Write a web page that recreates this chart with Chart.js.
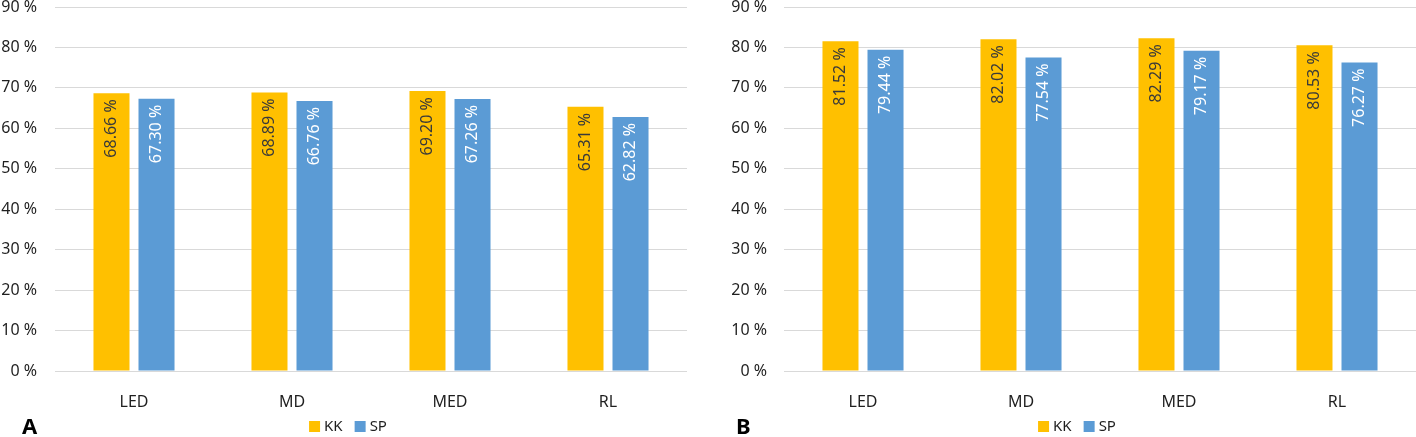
<!DOCTYPE html>
<html>
<head>
<meta charset="utf-8">
<script src="https://cdn.jsdelivr.net/npm/chart.js@4.4.1/dist/chart.umd.min.js"></script>
<style>
  html, body { margin: 0; padding: 0; background: #fff; }
  .wrap { display: flex; width: 1416px; height: 437px; }
  canvas { display: block; }
</style>
</head>
<body>
<div class="wrap">
  <canvas id="chartA" width="708" height="437"></canvas>
  <canvas id="chartB" width="708" height="437"></canvas>
</div>
<script>
// ── data ────────────────────────────────────────────────────────────────────
const categories = ["LED", "MD", "MED", "RL"];
const seriesNames = ["KK", "SP"];
const kkA = [68.66, 68.89, 69.20, 65.31];
const spA = [67.30, 66.76, 67.26, 62.82];
const kkB = [81.52, 82.02, 82.29, 80.53];
const spB = [79.44, 77.54, 79.17, 76.27];
const yTicks = [0, 10, 20, 30, 40, 50, 60, 70, 80, 90];

const YELLOW = "#FFC000", BLUE = "#5B9BD5";
const TEXT = "#1f1f1f";
const FONT = "'Noto Sans', 'Liberation Sans', sans-serif";

// rotated value labels inside the bars
const valueLabels = {
  id: "valueLabels",
  afterDatasetsDraw(chart) {
    const ctx = chart.ctx;
    chart.data.datasets.forEach((ds, i) => {
      chart.getDatasetMeta(i).data.forEach((bar, j) => {
        ctx.save();
        ctx.translate(bar.x, bar.y + 6);
        ctx.rotate(-Math.PI / 2);
        ctx.font = "16px " + FONT;
        ctx.fillStyle = ds.labelColor;
        ctx.textAlign = "right";
        ctx.textBaseline = "middle";
        ctx.fillText(ds.data[j].toFixed(2) + " %", 0, 0);
        ctx.restore();
      });
    });
  }
};

// legend + panel letter under the plot
const footer = {
  id: "footer",
  afterDraw(chart) {
    const ctx = chart.ctx, o = chart.options.plugins.footer;
    const area = chart.chartArea;
    ctx.save();
    ctx.font = "15px " + FONT;
    ctx.textBaseline = "middle";
    const items = chart.data.datasets.map(d => ({ label: d.label, color: d.backgroundColor, w: ctx.measureText(d.label).width }));
    const total = items.reduce((s, it) => s + 11 + 4 + it.w, 0) + 12 * (items.length - 1);
    let x = (area.left + area.right) / 2 + o.shift - total / 2;
    const y = 427;
    items.forEach(it => {
      ctx.fillStyle = it.color;
      ctx.fillRect(x, y - 6, 11, 11);
      x += 15;
      ctx.fillStyle = TEXT;
      ctx.fillText(it.label, x, y);
      x += it.w + 12;
    });
    ctx.font = "bold 22px " + FONT;
    ctx.fillStyle = "#000";
    ctx.textAlign = "left";
    ctx.fillText(o.letter, o.letterX, 428);
    ctx.restore();
  }
};

function makeChart(id, kk, sp, yWidth, yPad, rightPad, letter, letterX) {
  return new Chart(document.getElementById(id), {
    type: "bar",
    data: {
      labels: categories,
      datasets: [
        { label: seriesNames[0], data: kk, backgroundColor: YELLOW, labelColor: "#3a3a3a" },
        { label: seriesNames[1], data: sp, backgroundColor: BLUE, labelColor: "#ffffff" },
      ],
    },
    options: {
      responsive: false, animation: false,
      layout: { padding: { top: 7, right: rightPad, bottom: 0, left: 0 } },
      datasets: { bar: { categoryPercentage: 0.57, barPercentage: 0.8 } },
      plugins: {
        legend: { display: false }, tooltip: { enabled: false },
        footer: { letter, letterX, shift: -23 },
      },
      scales: {
        x: {
          grid: { display: false }, border: { display: false },
          ticks: { color: TEXT, font: { family: FONT, size: 16 }, padding: 14 },
          afterFit(s) { s.height = 66; s.paddingLeft = 0; s.paddingRight = 0; },
        },
        y: {
          min: 0, max: 90,
          afterBuildTicks(s) { s.ticks = yTicks.map(v => ({ value: v })); },
          grid: { color: "#d9d9d9", drawTicks: false },
          border: { display: false },
          ticks: { color: TEXT, font: { family: FONT, size: 16 }, padding: yPad, callback: v => v + " %" },
          afterFit(s) { s.width = yWidth; s.paddingTop = 0; s.paddingBottom = 0; },
        },
      },
    },
    plugins: [valueLabels, footer],
  });
}

makeChart("chartA", kkA, spA, 55, 18, 21, "A", 22);
makeChart("chartB", kkB, spB, 76, 17, 0, "B", 28);
</script>
</body>
</html>
